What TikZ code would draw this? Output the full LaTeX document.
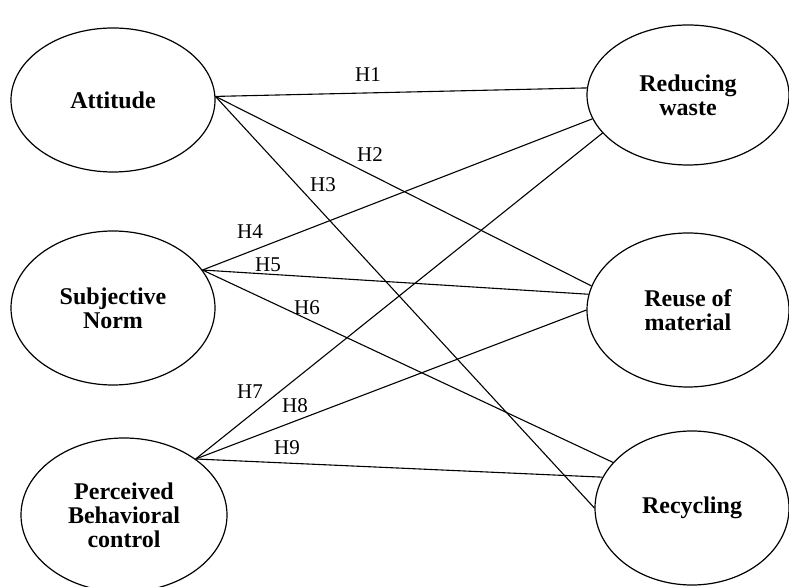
\documentclass[tikz,border=0pt]{standalone}
\usepackage{fontspec}
\setmainfont{Liberation Serif}
\usetikzlibrary{shapes.geometric}
\begin{document}
\begin{tikzpicture}[x=1pt,y=1pt,
  construct/.style={ellipse, draw, line width=1.2pt, inner sep=0pt, align=center,
    font=\fontsize{24}{24}\selectfont\bfseries},
  hline/.style={line width=1.1pt},
  hyp/.style={font=\fontsize{21}{21}\selectfont, inner sep=0pt}]
\useasboundingbox (0,0) rectangle (789,586);
\node[construct, minimum width=204, minimum height=144] (att) at (113,486) {Attitude};
\node[construct, minimum width=204, minimum height=154] (sn) at (113,278) {Subjective\\Norm};
\node[construct, minimum width=206, minimum height=154] (pbc) at (124,71) {Perceived\\Behavioral\\control};
\node[construct, minimum width=202, minimum height=140] (rw) at (688,491) {Reducing\\waste};
\node[construct, minimum width=202, minimum height=154] (ru) at (688,276) {Reuse of\\material};
\node[construct, minimum width=194, minimum height=154] (rc) at (692,78) {Recycling};
\draw[hline] (att.2) -- (rw.176);
\draw[hline] (att.2) -- (ru.166);
\draw[hline] (att.2) -- (rc.180);
\draw[hline] (sn.23) -- (rw.194);
\draw[hline] (sn.23) -- (ru.171);
\draw[hline] (sn.23) -- (rc.150);
\draw[hline] (pbc.38) -- (rw.204);
\draw[hline] (pbc.38) -- (ru.180);
\draw[hline] (pbc.38) -- (rc.161);
\node[hyp] (h1) at (368,511) {H1};
\node[hyp] (h2) at (370,431) {H2};
\node[hyp] (h3) at (323,401) {H3};
\node[hyp] (h4) at (250,354) {H4};
\node[hyp] (h5) at (268,321) {H5};
\node[hyp] (h6) at (307,278) {H6};
\node[hyp] (h7) at (250,194) {H7};
\node[hyp] (h8) at (295,180) {H8};
\node[hyp] (h9) at (287,138) {H9};
\end{tikzpicture}
\end{document}
